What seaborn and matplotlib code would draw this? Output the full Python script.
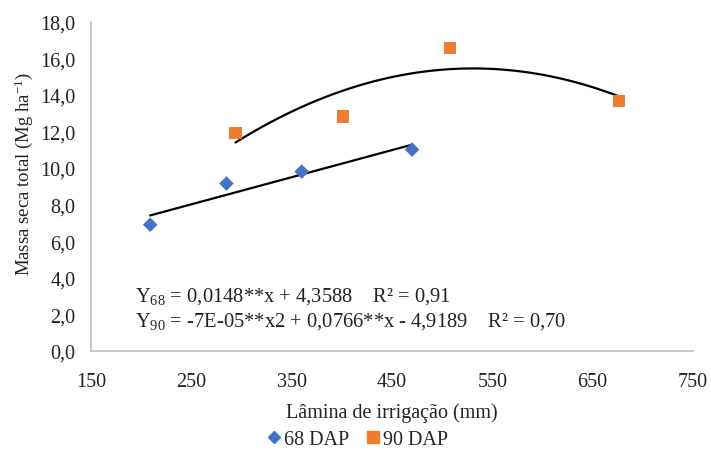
import numpy as np
import pandas as pd
import matplotlib
matplotlib.use("Agg")
import matplotlib.pyplot as plt
import seaborn as sns
from matplotlib.lines import Line2D

# Data
x68 = [209, 285, 360, 470]
y68 = [6.9, 9.15, 9.8, 11.0]
x90 = [294, 401, 508, 676]
y90 = [11.9, 12.8, 16.56, 13.66]
xticks = [150, 250, 350, 450, 550, 650, 750]
yticks = [0, 2, 4, 6, 8, 10, 12, 14, 16, 18]
eq68 = r"Y$_{\mathrm{68}}$ = 0,0148**x + 4,3588    R² = 0,91"
eq90 = r"Y$_{\mathrm{90}}$ = -7E-05**x2 + 0,0766**x - 4,9189    R² = 0,70"
labels = ["68 DAP", "90 DAP"]

sns.set_style("white")
plt.rcParams['font.family'] = ['Liberation Serif', 'DejaVu Serif']
plt.rcParams['mathtext.fontset'] = 'custom'
plt.rcParams['mathtext.rm'] = 'Liberation Serif'
plt.rcParams['mathtext.it'] = 'Liberation Serif:italic'

c68 = "#4472C4"
c90 = "#ED7D31"
FS = 14.5
TC = "#222222"

fig = plt.figure(figsize=(7.11, 4.6), dpi=100)
ax = fig.add_axes([91/711, 1-352/460, (693-91)/711, (352-22.5)/460])

df68 = pd.DataFrame({"x": x68, "y": y68})
df90 = pd.DataFrame({"x": x90, "y": y90})

# trend lines
c1 = np.polyfit(x68, y68, 1)
xs1 = np.linspace(min(x68), max(x68), 50)
c2 = np.polyfit(x90, y90, 2)
xs2 = np.linspace(min(x90), max(x90), 100)
sns.lineplot(x=xs1, y=np.polyval(c1, xs1), ax=ax, color="black", lw=1.6)
sns.lineplot(x=xs2, y=np.polyval(c2, xs2), ax=ax, color="black", lw=1.6)

sns.scatterplot(data=df68, x="x", y="y", ax=ax, marker="D", s=55, color=c68, edgecolor="none", zorder=3)
sns.scatterplot(data=df90, x="x", y="y", ax=ax, marker="s", s=80, color=c90, edgecolor="none", zorder=3)

ax.set_xlim(150, 750)
ax.set_ylim(0, 18)
ax.set_xticks(xticks)
ax.set_xticklabels([str(v) for v in xticks])
ax.set_yticks(yticks)
ax.set_yticklabels([f"{v:.1f}".replace(".", ",") for v in yticks])
ax.tick_params(axis="y", length=0, labelsize=FS, colors=TC, pad=11)
ax.tick_params(axis="x", length=0, labelsize=FS, colors=TC, pad=15)
for s in ["top", "right"]:
    ax.spines[s].set_visible(False)
for s in ["left", "bottom"]:
    ax.spines[s].set_color("#BFBFBF")
    ax.spines[s].set_linewidth(1.2)

ax.set_xlabel("Lâmina de irrigação (mm)", fontsize=FS, color=TC, labelpad=8)
ax.set_ylabel(r"Massa seca total (Mg ha$^{\mathrm{-1}}$)", fontsize=13.5, color=TC)
ax.yaxis.label.set_va("center")
ax.yaxis.set_label_coords((24 - 91) / 602, (352 - 174) / 329.5)

fig.text(135/711, 1-297/460, eq68, fontsize=14.8, va="center", ha="left", color=TC)
fig.text(135/711, 1-322/460, eq90, fontsize=14.8, va="center", ha="left", color=TC)

handles = [Line2D([], [], marker="D", color=c68, ls="none", markersize=6.5),
           Line2D([], [], marker="s", color=c90, ls="none", markersize=8)]
fig.legend(handles, labels, loc="center", bbox_to_anchor=(356/711, 1-440/460), ncol=2,
           frameon=False, fontsize=FS, handletextpad=0.0, columnspacing=0.7, handlelength=1.0)

fig.savefig("out.png", dpi=100)
